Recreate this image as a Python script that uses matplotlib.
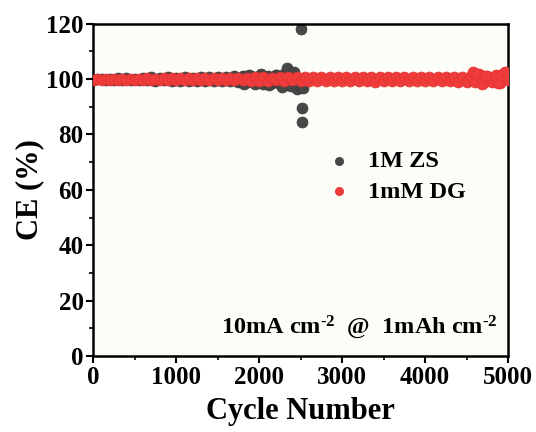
import matplotlib
matplotlib.use("Agg")
import matplotlib.pyplot as plt
import numpy as np

plt.rcParams['font.family'] = ['Liberation Serif', 'DejaVu Serif']
plt.rcParams['font.weight'] = 'bold'
plt.rcParams['mathtext.fontset'] = 'custom'
plt.rcParams['mathtext.rm'] = 'Liberation Serif:bold'
plt.rcParams['mathtext.default'] = 'rm'

# 1M ZS, read every 50 cycles (+ the scattered points near failure)
zs_cycle = [0, 50, 100, 150, 200, 250, 300, 350, 400, 450, 500, 550, 600, 650, 700,
            750, 800, 850, 900, 950, 1000, 1050, 1100, 1150, 1200, 1250, 1300, 1350,
            1400, 1450, 1500, 1550, 1600, 1650, 1700, 1750, 1800, 1850, 1900, 1950,
            2000, 2050, 2100, 2150, 2200, 2250, 2300, 2350, 2400, 2450, 2500,
            1820, 1880, 1950, 2020, 2120, 2200, 2280, 2330, 2380, 2420, 2460, 2480,
            2500, 2510, 2520, 2530]
zs_ce = [99.8, 99.9, 100.0, 99.8, 100.2, 99.7, 100.3, 99.6, 100.4, 99.7, 100.2, 99.6,
         100.5, 99.7, 100.6, 99.5, 100.3, 99.6, 100.7, 99.5, 100.4, 99.4, 100.6, 99.5,
         100.5, 99.4, 100.7, 99.4, 100.9, 99.3, 100.6, 99.2, 100.8, 99.3, 101.0, 99.1,
         101.2, 98.9, 101.0, 98.7, 101.3, 98.4, 101.0, 98.5, 101.5, 98.3, 101.8, 98.0,
         101.5, 97.6, 99.5,
         98.3, 101.6, 98.2, 101.7, 97.9, 101.5, 97.2, 104.0, 97.4, 102.4, 96.6, 97.8,
         118.0, 89.5, 84.5, 96.8]

# 1mM DG, read every 50 cycles (+ the bumps near the end)
dg_cycle = list(range(0, 5001, 50)) + [4580, 4620, 4680, 4720, 4880, 4920, 4960, 5000]
dg_ce = [99.7, 100.1, 99.7, 100.2, 99.8, 100.1, 99.7, 100.2, 99.7, 100.2, 99.8, 100.2,
         99.7, 100.3, 99.7, 100.2, 99.8, 100.3, 99.6, 100.3, 99.8, 100.3, 99.7, 100.4,
         99.6, 100.3, 99.7, 100.4, 99.6, 100.3, 99.7, 100.4, 99.6, 100.4, 99.7, 100.5,
         99.6, 100.5, 99.5, 100.6, 99.5, 100.6, 99.5, 100.5, 99.6, 100.7, 99.4, 100.6,
         99.6, 100.6, 99.5, 100.7, 99.4, 100.6, 99.5, 100.7, 99.4, 100.6, 99.5, 100.7,
         99.4, 100.8, 99.3, 100.6, 99.5, 100.7, 99.4, 100.8, 99.1, 100.7, 99.4, 100.8,
         99.3, 100.7, 99.4, 100.8, 99.2, 100.7, 99.4, 100.9, 99.2, 100.8, 99.3, 100.9,
         99.2, 100.8, 99.3, 100.9, 99.1, 100.9, 98.8, 101.0, 99.1, 102.0, 98.7, 101.2,
         98.9, 101.5, 98.5, 102.2, 99.6,
         102.4, 101.8, 98.4, 101.3, 98.6, 101.4, 102.6, 101.0]

fig = plt.figure(figsize=(5.36, 4.32), dpi=100)
ax = fig.add_axes([0.174, 0.176, 0.774, 0.769])
ax.set_facecolor('#fdfdf7')

ax.scatter(zs_cycle, zs_ce, s=62, color='#474747', edgecolors='#383838',
           linewidths=0.5, zorder=2, label='1M ZS')
ax.scatter(dg_cycle, dg_ce, s=62, color='#f03b3b', edgecolors='#e23232',
           linewidths=0.5, zorder=3, label='1mM DG')

ax.set_xlim(0, 5000)
ax.set_ylim(0, 120)
ax.set_xticks(np.arange(0, 5001, 1000))
ax.set_yticks(np.arange(0, 121, 20))
ax.set_xticks(np.arange(500, 5000, 1000), minor=True)
ax.set_yticks(np.arange(10, 120, 20), minor=True)
ax.tick_params(which='major', direction='out', length=5, width=1.5, labelsize=18, pad=2)
ax.tick_params(which='minor', direction='out', length=3, width=1.2)
for lbl in ax.get_xticklabels() + ax.get_yticklabels():
    lbl.set_fontweight('bold')
for sp in ax.spines.values():
    sp.set_linewidth(1.8)

ax.set_xlabel('Cycle Number', fontsize=22, fontweight='bold', labelpad=6)
ax.set_ylabel('CE (%)', fontsize=22, fontweight='bold', labelpad=1)

leg = ax.legend(loc='center left', bbox_to_anchor=(0.48, 0.54), frameon=False,
                handletextpad=0.2, labelspacing=0.35, markerscale=0.75,
                prop={'weight': 'bold', 'size': 17.5})

ax.text(0.975, 0.085, r'10mA cm$^{\text{-2}}$  @  1mAh cm$^{\text{-2}}$',
        transform=ax.transAxes, ha='right', va='center', fontsize=17.5, fontweight='bold')

fig.savefig('out.png', dpi=100)
